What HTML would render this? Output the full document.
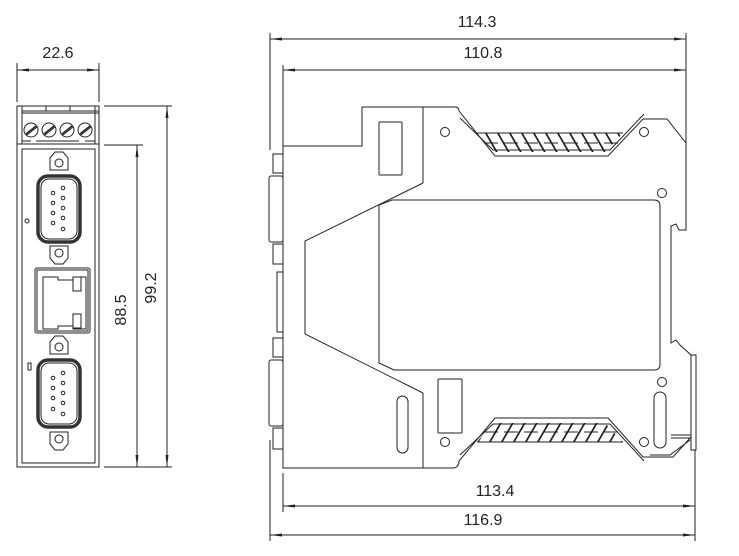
<!DOCTYPE html>
<html><head><meta charset="utf-8"><style>
html,body{margin:0;padding:0;background:#fff;width:739px;height:556px;overflow:hidden}
svg{display:block}
text{font-family:"Liberation Sans",sans-serif;font-size:16px;fill:#222}
</style></head><body>
<svg width="739" height="556" viewBox="0 0 739 556" xmlns="http://www.w3.org/2000/svg">
<defs>
<marker id="a" viewBox="0 0 12 6" refX="12" refY="3" markerWidth="12" markerHeight="6" orient="auto-start-reverse" markerUnits="userSpaceOnUse"><path d="M0,1.5 L12,3 L0,4.5 z" fill="#222"/></marker>
<pattern id="h1" width="12" height="24" patternUnits="userSpaceOnUse" patternTransform="skewX(30)"><line x1="1" y1="0" x2="1" y2="24" stroke="#222" stroke-width="2"/></pattern>
<pattern id="h2" width="12" height="24" patternUnits="userSpaceOnUse" patternTransform="skewX(-30)"><line x1="1" y1="0" x2="1" y2="24" stroke="#222" stroke-width="2"/></pattern>
</defs>
<g fill="none" stroke="#222" stroke-width="1">
<!-- LEFT DEVICE -->
<line x1="17" y1="63" x2="17" y2="102"/><line x1="99" y1="63" x2="99" y2="102"/>
<line x1="17" y1="70" x2="99" y2="70" marker-start="url(#a)" marker-end="url(#a)"/>
<rect x="17" y="106" width="82" height="361"/>
<line x1="22" y1="111" x2="99" y2="111"/><line x1="22" y1="113" x2="99" y2="113"/>
<line x1="22" y1="106" x2="22" y2="144"/><line x1="95" y1="106" x2="95" y2="144"/>
<line x1="46" y1="106" x2="46" y2="111"/><line x1="70" y1="106" x2="70" y2="111"/>
<line x1="17" y1="144" x2="99" y2="144"/>
<line x1="22" y1="141" x2="31" y2="141"/><line x1="36" y1="141" x2="79" y2="141"/><line x1="85" y1="141" x2="95" y2="141"/>
<g>
<circle cx="31" cy="130" r="7"/><line x1="26" y1="134" x2="36" y2="126" stroke-width="1.5"/><line x1="27" y1="135" x2="37" y2="127"/>
<circle cx="49" cy="130" r="7"/><line x1="44" y1="134" x2="54" y2="126" stroke-width="1.5"/><line x1="45" y1="135" x2="55" y2="127"/>
<circle cx="67" cy="130" r="7"/><line x1="62" y1="134" x2="72" y2="126" stroke-width="1.5"/><line x1="63" y1="135" x2="73" y2="127"/>
<circle cx="85" cy="130" r="7"/><line x1="80" y1="134" x2="90" y2="126" stroke-width="1.5"/><line x1="81" y1="135" x2="91" y2="127"/>
</g>
<rect x="22" y="149" width="73" height="314"/>
<!-- connector 1 -->
<path d="M50,158 l5,-6 h8 l5,6 v12 h-18 z"/><circle cx="59" cy="163" r="4"/>
<path d="M50,258 l5,6 h8 l5,-6 v-12 h-18 z"/><circle cx="59" cy="253" r="4"/>
<rect x="38" y="176" width="42" height="66" rx="10" fill="#fff" stroke="#333" stroke-width="3.5"/>
<rect x="41" y="179" width="36" height="60" rx="8"/>
<g><circle cx="63" cy="188" r="1.8"/><circle cx="63" cy="198" r="1.8"/><circle cx="63" cy="208" r="1.8"/><circle cx="63" cy="218" r="1.8"/><circle cx="63" cy="229" r="1.8"/>
<circle cx="53" cy="193" r="1.8"/><circle cx="53" cy="203" r="1.8"/><circle cx="53" cy="213" r="1.8"/><circle cx="53" cy="223" r="1.8"/></g>
<circle cx="27" cy="221" r="2"/>
<!-- ethernet -->
<rect x="35" y="268" width="55" height="65" rx="2"/>
<rect x="37" y="270" width="51" height="61"/>
<path d="M43,277 h15 v3 h15 v-3 h13 v52 h-13 v-3 h-15 v3 h-15 z"/>
<rect x="73" y="277" width="8" height="14"/><rect x="73" y="314" width="8" height="14"/>
<!-- connector 2 -->
<path d="M50,342 l5,-6 h8 l5,6 v12 h-18 z"/><circle cx="59" cy="347" r="4"/>
<path d="M50,444 l5,6 h8 l5,-6 v-12 h-18 z"/><circle cx="59" cy="439" r="4"/>
<rect x="38" y="360" width="42" height="67" rx="10" fill="#fff" stroke="#333" stroke-width="3.5"/>
<rect x="41" y="363" width="36" height="61" rx="8"/>
<g><circle cx="63" cy="373" r="1.8"/><circle cx="63" cy="383" r="1.8"/><circle cx="63" cy="393" r="1.8"/><circle cx="63" cy="403" r="1.8"/><circle cx="63" cy="414" r="1.8"/>
<circle cx="53" cy="378" r="1.8"/><circle cx="53" cy="388" r="1.8"/><circle cx="53" cy="398" r="1.8"/><circle cx="53" cy="409" r="1.8"/></g>
<rect x="28" y="363" width="3" height="7"/>
<!-- vertical dims -->
<line x1="104" y1="106" x2="172" y2="106"/><line x1="104" y1="145" x2="143" y2="145"/><line x1="104" y1="467" x2="172" y2="467"/>
<line x1="167" y1="106" x2="167" y2="467" marker-start="url(#a)" marker-end="url(#a)"/>
<line x1="137" y1="145" x2="137" y2="467" marker-start="url(#a)" marker-end="url(#a)"/>

<!-- RIGHT DEVICE dims -->
<line x1="270" y1="33" x2="270" y2="150"/><line x1="270" y1="440" x2="270" y2="541"/>
<line x1="686" y1="33" x2="686" y2="143"/>
<line x1="283" y1="65" x2="283" y2="146"/>
<line x1="270" y1="39" x2="686" y2="39" marker-start="url(#a)" marker-end="url(#a)"/>
<line x1="283" y1="70" x2="686" y2="70" marker-start="url(#a)" marker-end="url(#a)"/>
<line x1="283" y1="473" x2="283" y2="512"/>
<line x1="695" y1="450" x2="695" y2="541"/>
<line x1="283" y1="506" x2="695" y2="506" marker-start="url(#a)" marker-end="url(#a)"/>
<line x1="270" y1="535" x2="695" y2="535" marker-start="url(#a)" marker-end="url(#a)"/>

<!-- body -->
<path d="M283,146 H362 V107 H455 q4,0 4,4 L495,156 H608 L643,119 H667 L686,143 V230 H679 L676,224 L671,226 V343 L676,340 L680,345 L691,355 V437 L673,457 H643 L608,418 H495 L459,461 q0,6 -5,7 H283 Z"/>
<path d="M460,118 L493,150 H610 L644,114"/>
<path d="M460,455 L493,424 H610 L644,461"/>
<line x1="423" y1="107" x2="423" y2="183"/><line x1="423" y1="393" x2="423" y2="468"/>
<path d="M423,183 L305,241 V334 L423,393"/>
<path d="M379,205 L392,200 H654 q6,0 6,6 V364 q0,6 -6,6 H394 L379,363 Z"/>
<rect x="379" y="122" width="23" height="53" rx="1"/>
<rect x="438" y="379" width="24" height="54" rx="1"/>
<circle cx="445" cy="132" r="4.5"/><circle cx="644" cy="132" r="4.5"/>
<circle cx="662" cy="193" r="4.5"/><circle cx="662" cy="382" r="4.5"/>
<circle cx="445" cy="442" r="4.5"/><circle cx="644" cy="442" r="4.5"/>
<rect x="397" y="396" width="11" height="57" rx="5.5"/>
<rect x="654" y="392" width="12" height="56" rx="6"/>
<!-- hatches -->
<path d="M477,133 H623 L605,152 H493 Z" fill="url(#h1)" stroke="none"/>
<line x1="477" y1="133" x2="623" y2="133"/>
<path d="M484,143 H618" stroke-dasharray="14,6"/>
<path d="M477,442 H623 L605,423 H493 Z" fill="url(#h2)" stroke="none"/>
<line x1="477" y1="442" x2="623" y2="442"/>
<path d="M484,432 H618" stroke-dasharray="14,6"/>
<!-- right clip -->
<rect x="691" y="355" width="5" height="95"/>
<line x1="671" y1="435" x2="691" y2="435"/><line x1="671" y1="438" x2="691" y2="438"/>
<path d="M650,455 L670,455 L690,440"/>
<!-- left connectors side view -->
<rect x="273" y="154" width="10" height="19"/>
<rect x="269" y="176" width="14" height="66" rx="2"/>
<rect x="273" y="244" width="10" height="20"/>
<rect x="277" y="272" width="6" height="60"/>
<rect x="273" y="338" width="10" height="19"/>
<rect x="269" y="360" width="14" height="66" rx="2"/>
<rect x="273" y="428" width="10" height="21"/>
</g>
<text x="58" y="58" text-anchor="middle">22.6</text>
<text x="477" y="27" text-anchor="middle">114.3</text>
<text x="483" y="58" text-anchor="middle">110.8</text>
<text x="495" y="496" text-anchor="middle">113.4</text>
<text x="483" y="525" text-anchor="middle">116.9</text>
<text transform="translate(126,310) rotate(-90)" text-anchor="middle">88.5</text>
<text transform="translate(156,288) rotate(-90)" text-anchor="middle">99.2</text>
</svg>
</body></html>
